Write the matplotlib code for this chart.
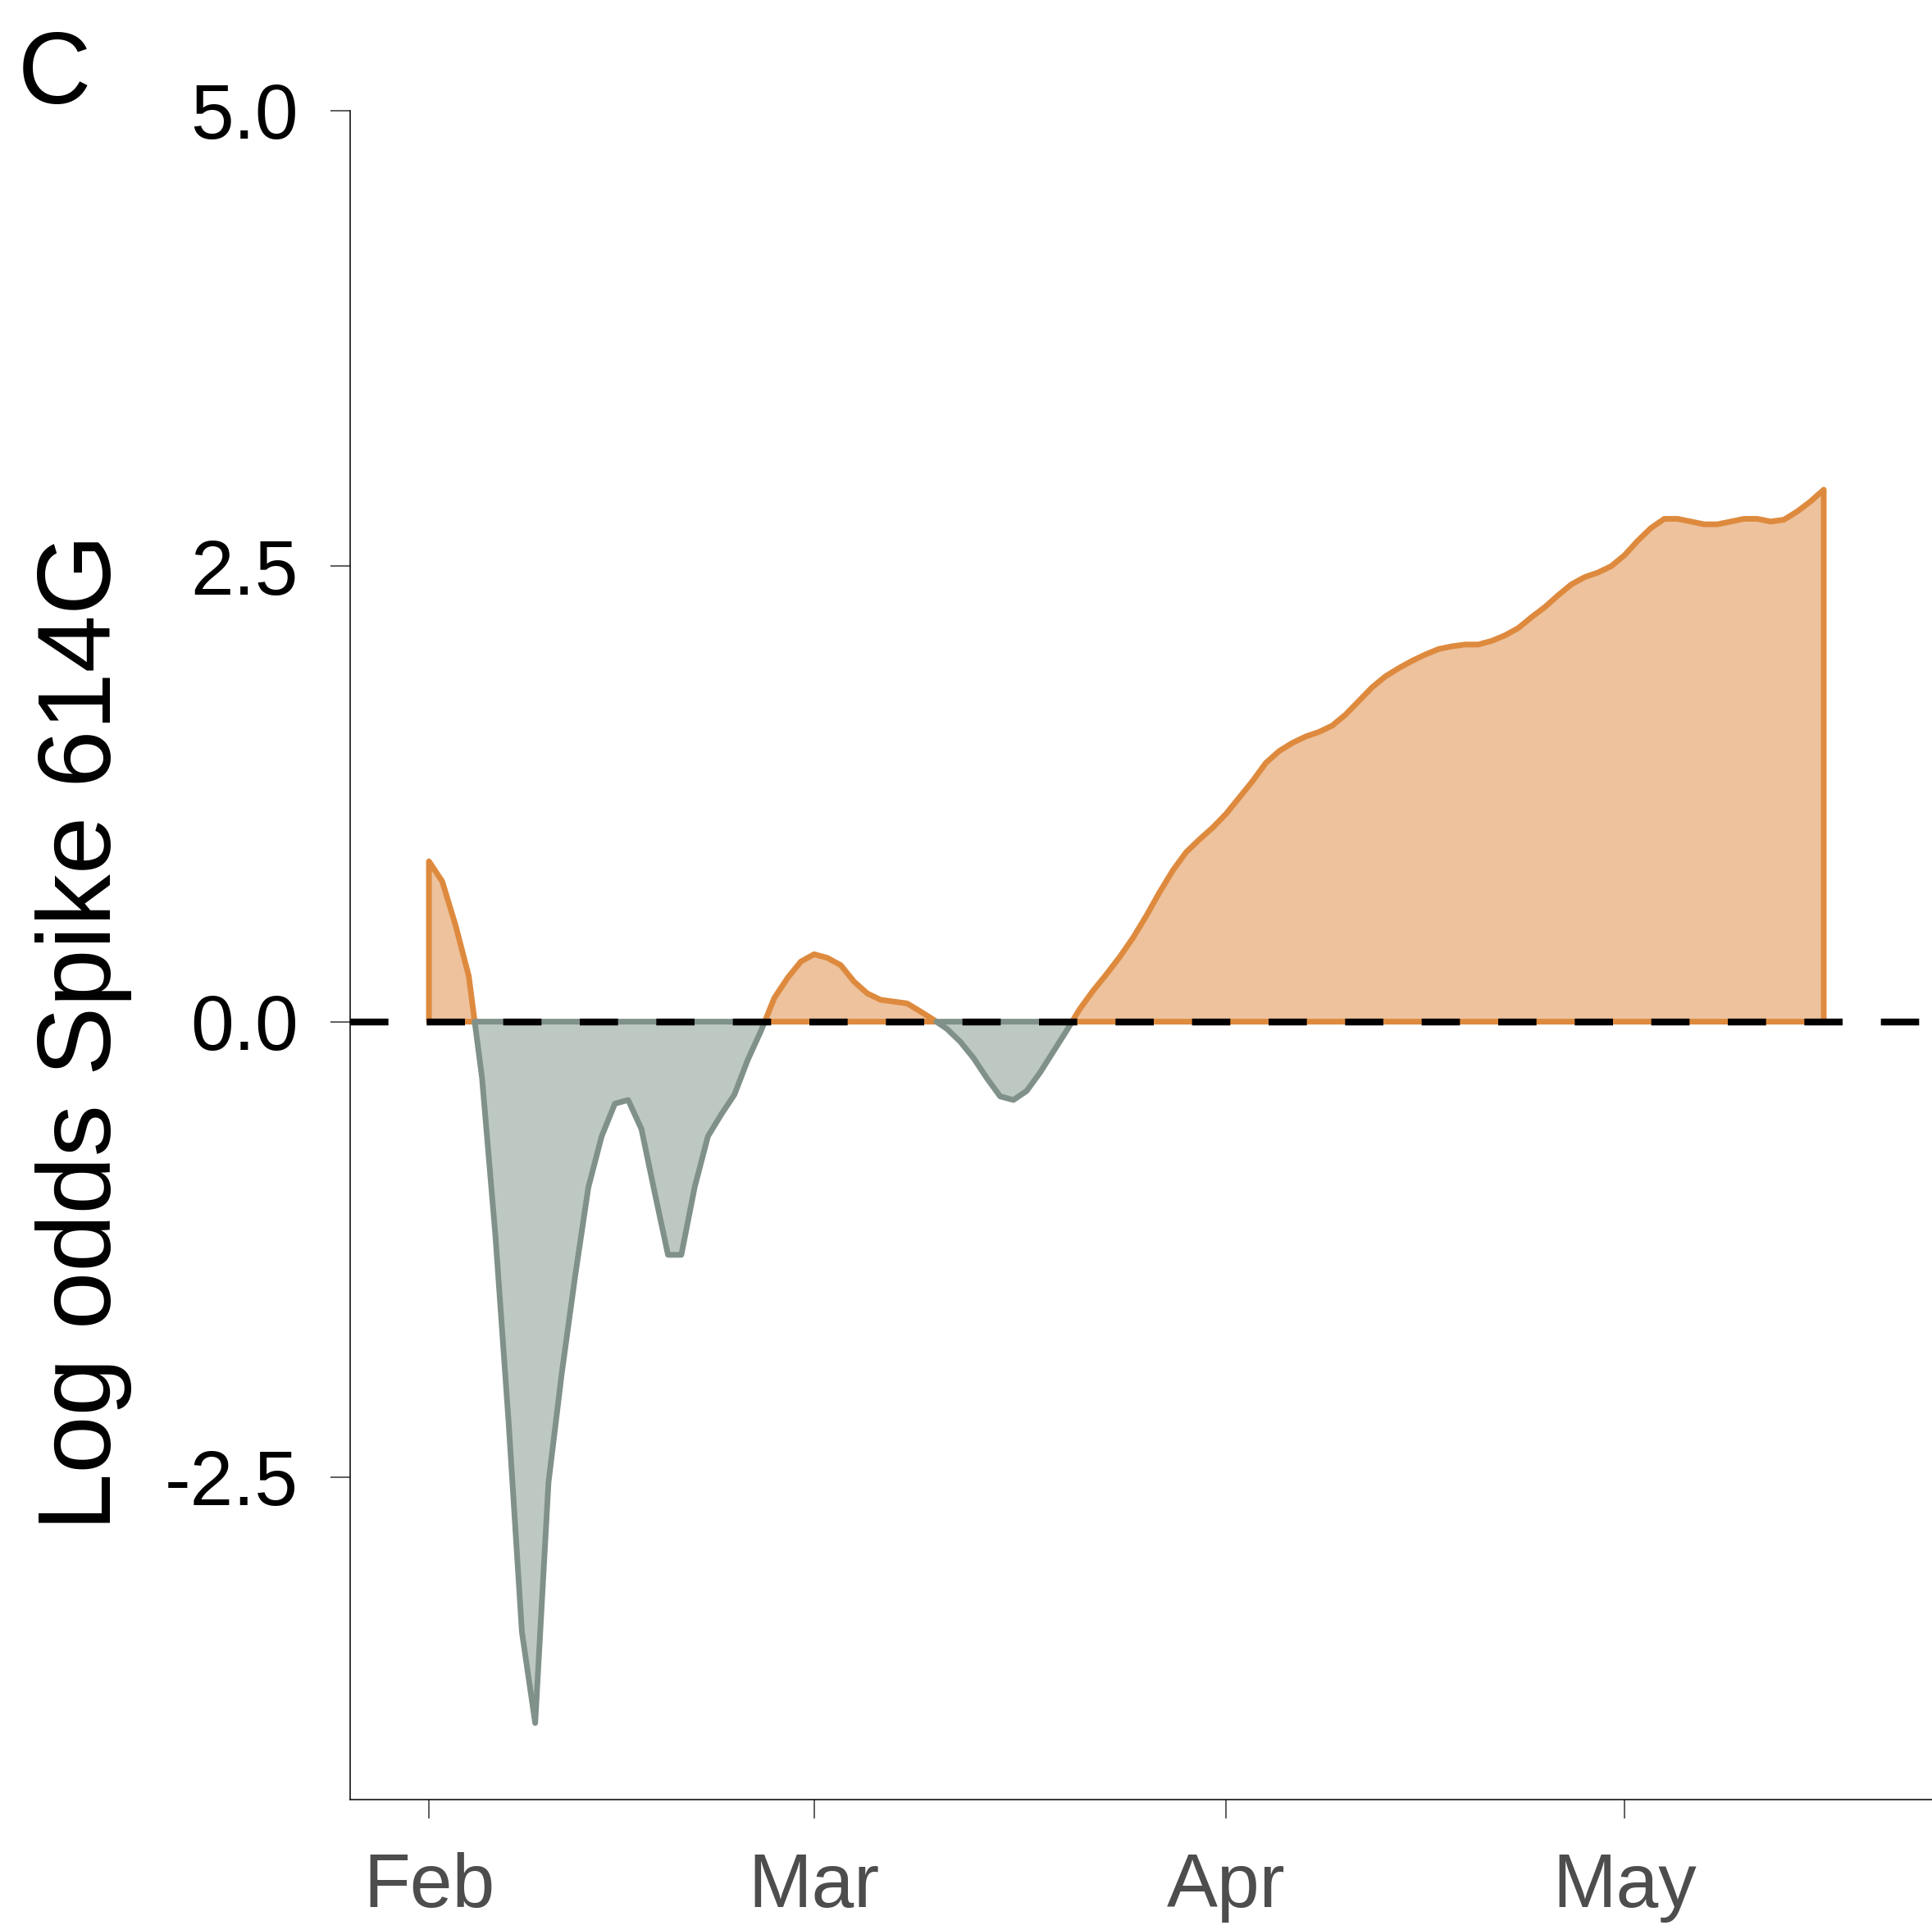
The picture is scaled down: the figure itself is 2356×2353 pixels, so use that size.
import numpy as np
import matplotlib
matplotlib.use("Agg")
import matplotlib.pyplot as plt
import matplotlib.dates as mdates

plt.rcParams['font.family'] = ['Liberation Sans', 'DejaVu Sans']

# daily log odds of Spike 614G, 2020-02-01 .. 2020-05-16
dates = np.arange('2020-02-01', '2020-05-17', dtype='datetime64[D]')
log_odds = [
    0.88, 0.77, 0.53, 0.25, -0.31, -1.17, -2.20, -3.35, -3.85, -2.53,
    -1.93, -1.40, -0.91, -0.63, -0.45, -0.43, -0.59, -0.94, -1.28, -1.28,
    -0.91, -0.63, -0.51, -0.40, -0.21, -0.05, 0.13, 0.24, 0.33, 0.37,
    0.35, 0.31, 0.22, 0.155, 0.12, 0.11, 0.10, 0.056, 0.01, -0.04,
    -0.11, -0.20, -0.31, -0.41, -0.43, -0.38, -0.28, -0.165, -0.05, 0.07,
    0.17, 0.26, 0.355, 0.46, 0.58, 0.71, 0.83, 0.93, 1.00, 1.065,
    1.14, 1.23, 1.32, 1.42, 1.485, 1.53, 1.565, 1.59, 1.625, 1.685,
    1.76, 1.835, 1.895, 1.94, 1.98, 2.015, 2.045, 2.06, 2.07, 2.07,
    2.09, 2.12, 2.16, 2.22, 2.275, 2.34, 2.40, 2.44, 2.465, 2.50,
    2.56, 2.64, 2.71, 2.76, 2.76, 2.745, 2.73, 2.73, 2.745, 2.76,
    2.76, 2.745, 2.755, 2.80, 2.855, 2.92,
]
month_ticks = ['2020-02-01', '2020-03-01', '2020-04-01', '2020-05-01']
month_labels = ['Feb', 'Mar', 'Apr', 'May']
y_ticks = [-2.5, 0.0, 2.5, 5.0]

orange_line, orange_fill = '#DE8A3E', '#EDC29D'
grey_line, grey_fill = '#80918A', '#BDC8C3'

x = mdates.date2num(dates)
y = np.array(log_odds)

W, H = 2356, 2353
fig = plt.figure(figsize=(W / 100, H / 100), dpi=100)
ax = fig.add_axes([427 / W, 1 - 2194 / H, 1 - 427 / W, (2194 - 135) / H])

ax.fill_between(x, y, 0, where=y >= 0, interpolate=True, facecolor=orange_fill,
                edgecolor=orange_line, linewidth=5, joinstyle='round', zorder=2)
ax.fill_between(x, y, 0, where=y <= 0, interpolate=True, facecolor=grey_fill,
                edgecolor=grey_line, linewidth=5, joinstyle='round', zorder=2)
# dashed zero line, dash = gap = ~47px
ax.axhline(0, color='black', linewidth=6, linestyle=(0, (5.6, 5.6)), zorder=3)

x0 = mdates.date2num(np.datetime64('2020-02-01'))
ax.set_xlim(x0 - 5.93, x0 + 113.15)
ax.set_ylim(-4.27, 5.0)

ax.set_xticks(mdates.date2num(np.array(month_ticks, dtype='datetime64[D]')))
ax.set_xticklabels(month_labels)
ax.set_yticks(y_ticks)
ax.set_yticklabels([f'{v:.1f}' for v in y_ticks])

for s in ['top', 'right']:
    ax.spines[s].set_visible(False)
for s in ['left', 'bottom']:
    ax.spines[s].set_linewidth(1.1)
    ax.spines[s].set_color('black')

ax.tick_params(axis='x', length=16.2, width=1.1, color='#333333', pad=30,
               labelsize=67, labelcolor='#4D4D4D')
ax.tick_params(axis='y', length=17.3, width=1.1, color='#333333', pad=28,
               labelsize=68, labelcolor='black')

fig.text(102 / W, 1 - 1258 / H, 'Log odds Spike 614G', fontsize=91,
         rotation=90, ha='center', va='center')
fig.text(66 / W, 1 - 94 / H, 'C', fontsize=89, ha='center', va='center')

fig.savefig('out.png', dpi=100)
